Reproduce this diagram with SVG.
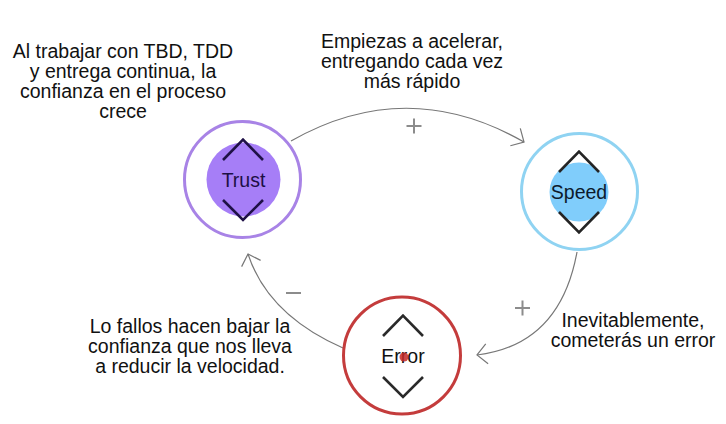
<svg xmlns="http://www.w3.org/2000/svg" width="726" height="424" viewBox="0 0 726 424">
<defs>
<style>
.lbl{font-family:"Liberation Sans",Arial,sans-serif;font-size:19.5px;fill:#111;text-anchor:middle}
.node{font-family:"Liberation Sans",Arial,sans-serif;font-size:19.5px;text-anchor:middle}
.conn{fill:none;stroke:#777;stroke-width:1.2}
.sign{stroke:#8c8c8c;stroke-width:2;fill:none}
.chev{fill:none;stroke-width:2.6;stroke-linecap:butt;stroke-linejoin:miter}
</style>
<marker id="arr" markerUnits="userSpaceOnUse" markerWidth="30" markerHeight="30" viewBox="-15 -15 30 30" refX="0" refY="0" orient="auto" overflow="visible">
<path d="M-10,-10 L0,0 L-10,10" fill="none" stroke="#777" stroke-width="1.2"/>
</marker>
</defs>
<rect x="0" y="0" width="726" height="424" fill="#fff"/>

<g id="connectors">
<path class="conn" d="M291,141 Q407,75 524,142" marker-end="url(#arr)"/>
<path class="conn" d="M577,252 Q560,345 477,355" marker-end="url(#arr)"/>
<path class="conn" d="M343,348 Q268,315 248,254" marker-end="url(#arr)"/>
<path class="sign" d="M406.5,126 H421.5 M414,118.5 V133.5"/>
<path class="sign" d="M515,308 H530 M522.5,300.5 V315.5"/>
<path class="sign" d="M286,293 H301"/>
</g>

<g id="trust">
<circle cx="242.5" cy="179.5" r="58" fill="#fff" stroke="#a883e6" stroke-width="3"/>
<circle cx="243.5" cy="179.5" r="37" fill="#a67ef7"/>
<path class="chev" stroke="#1f1147" d="M223,160 L243,139.5 L263,160"/>
<path class="chev" stroke="#1f1147" d="M223,200 L243,220 L263,200"/>
<text class="node" x="243.5" y="187" fill="#1d0f45">Trust</text>
</g>

<g id="speed">
<circle cx="579.5" cy="191.5" r="58" fill="#fff" stroke="#8fd3f2" stroke-width="3"/>
<circle cx="579" cy="192" r="29.5" fill="#80cdfb"/>
<path class="chev" stroke="#242424" d="M559,172 L579,151.5 L599,172"/>
<path class="chev" stroke="#242424" d="M559,212 L579,232.5 L599,212"/>
<text class="node" x="579" y="199" fill="#0c1a2c">Speed</text>
</g>

<g id="error">
<circle cx="402" cy="355.5" r="58.5" fill="#fff" stroke="#c43c3c" stroke-width="3"/>
<path class="chev" stroke="#2a2a2a" d="M383,336 L403,315.5 L423,336"/>
<path class="chev" stroke="#2a2a2a" d="M383,377 L403,397 L423,377"/>
<text class="node" x="403" y="363" fill="#111">Error</text>
<circle cx="404" cy="357" r="4.5" fill="#c42828" opacity="0.85"/>
</g>

<g id="labels">
<text class="lbl" x="123" y="58">Al trabajar con TBD, TDD</text>
<text class="lbl" x="123" y="78">y entrega continua, la</text>
<text class="lbl" x="123" y="98">confianza en el proceso</text>
<text class="lbl" x="123" y="118">crece</text>
<text class="lbl" x="412" y="48">Empiezas a acelerar,</text>
<text class="lbl" x="412" y="68">entregando cada vez</text>
<text class="lbl" x="412" y="88">más rápido</text>
<text class="lbl" x="190" y="333">Lo fallos hacen bajar la</text>
<text class="lbl" x="190" y="353">confianza que nos lleva</text>
<text class="lbl" x="190" y="373">a reducir la velocidad.</text>
<text class="lbl" x="633" y="327">Inevitablemente,</text>
<text class="lbl" x="633" y="347">cometerás un error</text>
</g>
</svg>
